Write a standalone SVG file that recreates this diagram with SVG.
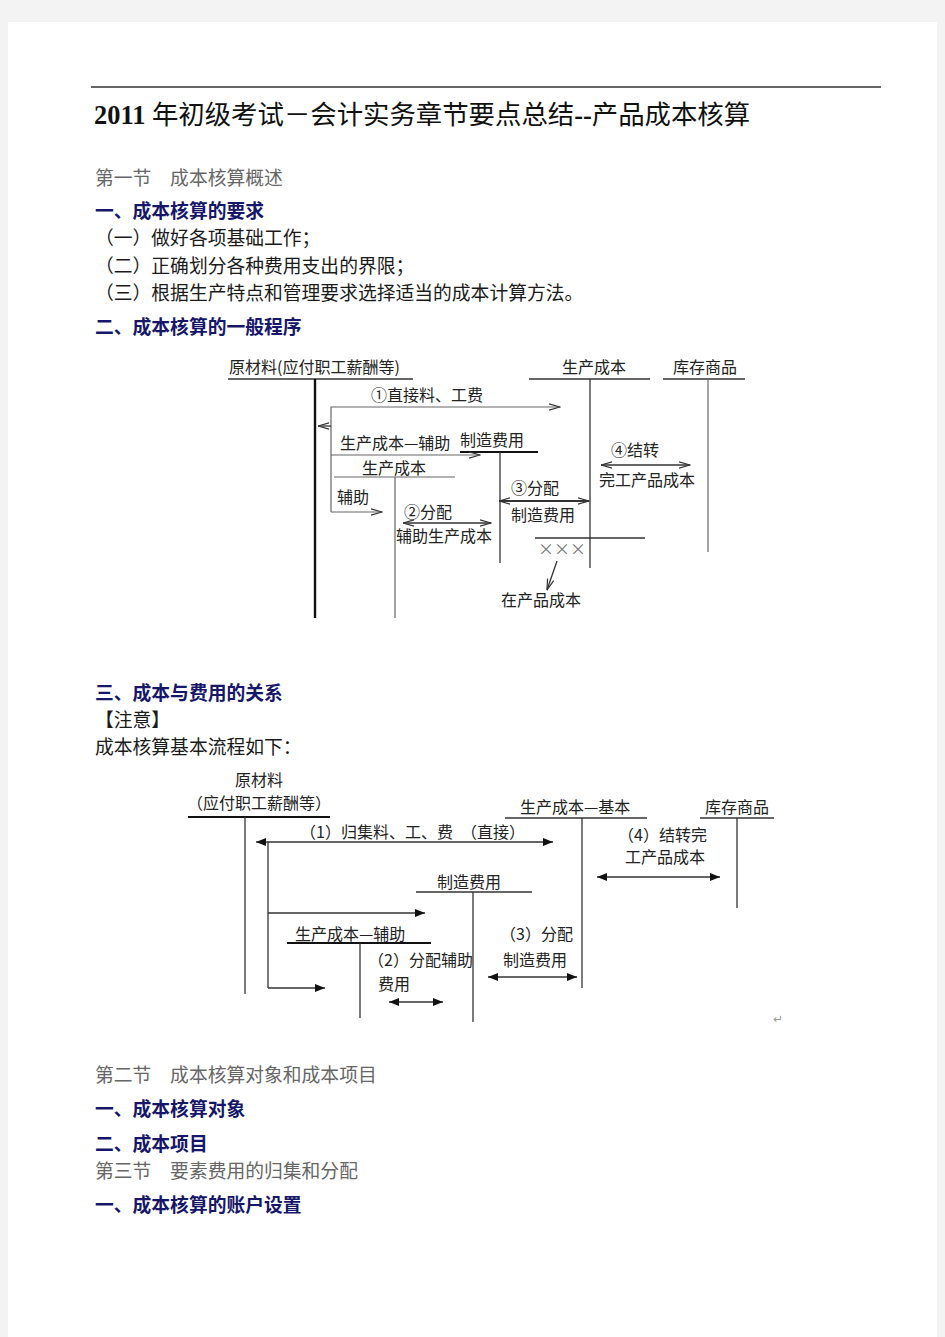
<svg xmlns="http://www.w3.org/2000/svg" width="945" height="1337" viewBox="0 0 945 1337">
<style>
.doc{font-family:"Liberation Serif","Noto Sans CJK SC",serif;font-size:18.8px;fill:#1a1a1a}
.sec{fill:#666}
.h{font-weight:bold;fill:#16166a}
.lbl{font-family:"Noto Sans CJK SC","Noto Sans",sans-serif;font-size:16px;fill:#222}
.ln{stroke:#333;stroke-width:1.3;fill:none}
.thick{stroke:#111;stroke-width:2.4;fill:none}
.gray{stroke:#666;stroke-width:1.2;fill:none}
</style>
<defs>
<marker id="open" viewBox="0 0 12 8" refX="11.5" refY="4" markerWidth="12" markerHeight="8" orient="auto-start-reverse" markerUnits="userSpaceOnUse"><path d="M0.5,0.8 L11.5,4 L0.5,7.2" fill="none" stroke="#333" stroke-width="1.2"/></marker>
<marker id="fill" viewBox="0 0 10 8" refX="10" refY="4" markerWidth="10" markerHeight="8" orient="auto-start-reverse" markerUnits="userSpaceOnUse"><path d="M0,0 L10,4 L0,8 z" fill="#111"/></marker>
</defs>
<rect width="945" height="1337" fill="#f3f3f3"/>
<rect x="8" y="22" width="929" height="1315" fill="#ffffff"/>
<line x1="91" y1="87" x2="881" y2="87" stroke="#333" stroke-width="1.3"/>

<g id="title">
<text x="94" y="124" font-family="'Liberation Serif','Noto Sans CJK SC',serif" font-size="26.4" fill="#111"><tspan font-weight="bold">2011</tspan> 年初级考试－会计实务章节要点总结<tspan font-weight="bold">--</tspan>产品成本核算</text>
</g>

<g id="text-top">
<text x="95" y="185" class="doc sec">第一节　成本核算概述</text>
<text x="95" y="218" class="doc h">一、成本核算的要求</text>
<text x="95" y="245" class="doc">（一）做好各项基础工作；</text>
<text x="95" y="273" class="doc">（二）正确划分各种费用支出的界限；</text>
<text x="95" y="300" class="doc">（三）根据生产特点和管理要求选择适当的成本计算方法。</text>
<text x="95" y="334" class="doc h">二、成本核算的一般程序</text>
</g>

<!-- Diagram 1 -->
<g id="d1-raw">
<text x="229" y="373" class="lbl">原材料(应付职工薪酬等)</text>
<line x1="228" y1="379" x2="413" y2="379" class="ln"/>
<line x1="315" y1="379" x2="315" y2="618" class="thick"/>
</g>
<g id="d1-prod">
<text x="562" y="373" class="lbl">生产成本</text>
<line x1="529" y1="379" x2="650" y2="379" class="ln"/>
<line x1="590" y1="379" x2="590" y2="568" class="ln"/>
<line x1="535" y1="538" x2="645" y2="538" class="ln"/>
<text x="538" y="555" class="lbl" style="fill:#777">×××</text>
</g>
<g id="d1-stock">
<text x="673" y="373" class="lbl">库存商品</text>
<line x1="663" y1="379" x2="745" y2="379" class="ln"/>
<line x1="708" y1="379" x2="708" y2="552" class="gray"/>
</g>
<g id="d1-mfg">
<text x="460" y="446" class="lbl">制造费用</text>
<line x1="460" y1="452" x2="538" y2="452" class="thick" style="stroke-width:2"/>
<line x1="500" y1="452" x2="500" y2="563" class="ln"/>
</g>
<g id="d1-aux">
<text x="362" y="474" class="lbl">生产成本</text>
<line x1="334" y1="477" x2="455" y2="477" class="gray"/>
<line x1="395" y1="477" x2="395" y2="618" class="gray"/>
</g>
<g id="d1-wip">
<text x="501" y="606" class="lbl">在产品成本</text>
</g>
<g id="d1-connectors">
<path d="M331,512 L331,407 L560,407" class="gray" marker-end="url(#open)"/>
<line x1="331" y1="426" x2="318" y2="426" class="ln" marker-end="url(#open)"/>
<line x1="331" y1="455" x2="480" y2="455" class="gray" marker-end="url(#open)"/>
<line x1="331" y1="512" x2="382" y2="512" class="gray" marker-end="url(#open)"/>
<line x1="403" y1="523" x2="491" y2="523" class="ln" marker-start="url(#open)" marker-end="url(#open)"/>
<line x1="499" y1="501" x2="589" y2="501" class="ln" style="stroke-width:2" marker-start="url(#open)" marker-end="url(#open)"/>
<line x1="601" y1="465" x2="690" y2="465" class="ln" marker-start="url(#open)" marker-end="url(#open)"/>
<line x1="557" y1="561" x2="547" y2="590" class="ln" marker-end="url(#open)"/>
<text x="371" y="401" class="lbl">①直接料、工费</text>
<text x="340" y="449" class="lbl">生产成本—辅助</text>
<text x="337" y="503" class="lbl">辅助</text>
<text x="404" y="518" class="lbl">②分配</text>
<text x="396" y="542" class="lbl">辅助生产成本</text>
<text x="511" y="494" class="lbl">③分配</text>
<text x="511" y="521" class="lbl">制造费用</text>
<text x="611" y="456" class="lbl">④结转</text>
<text x="599" y="486" class="lbl">完工产品成本</text>
</g>

<g id="text-mid">
<text x="95" y="700" class="doc h">三、成本与费用的关系</text>
<text x="95" y="727" class="doc">【注意】</text>
<text x="95" y="754" class="doc">成本核算基本流程如下：</text>
</g>

<!-- Diagram 2 -->
<g id="d2-raw">
<text x="259" y="786" class="lbl" text-anchor="middle">原材料</text>
<text x="187" y="809" class="lbl">（应付职工薪酬等）</text>
<line x1="188" y1="817" x2="330" y2="817" class="thick" style="stroke-width:1.8"/>
<line x1="245" y1="817" x2="245" y2="994" class="ln"/>
</g>
<g id="d2-basic">
<text x="520" y="813" class="lbl">生产成本—基本</text>
<line x1="505" y1="818" x2="647" y2="818" class="ln"/>
<line x1="582" y1="818" x2="582" y2="988" class="ln"/>
</g>
<g id="d2-stock">
<text x="705" y="813" class="lbl">库存商品</text>
<line x1="700" y1="818" x2="774" y2="818" class="ln"/>
<line x1="737" y1="818" x2="737" y2="908" class="ln"/>
</g>
<g id="d2-mfg">
<text x="437" y="888" class="lbl">制造费用</text>
<line x1="416" y1="892" x2="532" y2="892" class="ln"/>
<line x1="473" y1="892" x2="473" y2="1022" class="ln"/>
</g>
<g id="d2-aux">
<text x="295" y="940" class="lbl">生产成本—辅助</text>
<line x1="287" y1="943" x2="431" y2="943" class="thick" style="stroke-width:1.8"/>
<line x1="360" y1="943" x2="360" y2="1018" class="ln"/>
</g>
<g id="d2-connectors">
<line x1="268" y1="842" x2="256" y2="842" class="ln" marker-end="url(#fill)"/>
<path d="M268,988 L268,842 L553,842" class="ln" marker-end="url(#fill)"/>
<line x1="268" y1="913" x2="425" y2="913" class="ln" marker-end="url(#fill)"/>
<line x1="268" y1="988" x2="325" y2="988" class="ln" marker-end="url(#fill)"/>
<line x1="389" y1="1002" x2="443" y2="1002" class="ln" marker-start="url(#fill)" marker-end="url(#fill)"/>
<line x1="488" y1="977" x2="577" y2="977" class="ln" marker-start="url(#fill)" marker-end="url(#fill)"/>
<line x1="597" y1="877" x2="720" y2="877" class="ln" marker-start="url(#fill)" marker-end="url(#fill)"/>
<text x="300" y="838" class="lbl">（1）归集料、工、费　（直接）</text>
<text x="368" y="966" class="lbl">（2）分配辅助</text>
<text x="378" y="990" class="lbl">费用</text>
<text x="500" y="940" class="lbl">（3）分配</text>
<text x="503" y="966" class="lbl">制造费用</text>
<text x="618" y="841" class="lbl">（4）结转完</text>
<text x="625" y="863" class="lbl">工产品成本</text>
</g>
<text x="773" y="1023" font-family="'DejaVu Sans',sans-serif" font-size="12" fill="#999">↵</text>

<g id="text-bottom">
<text x="95" y="1082" class="doc sec">第二节　成本核算对象和成本项目</text>
<text x="95" y="1116" class="doc h">一、成本核算对象</text>
<text x="95" y="1151" class="doc h">二、成本项目</text>
<text x="95" y="1178" class="doc sec">第三节　要素费用的归集和分配</text>
<text x="95" y="1212" class="doc h">一、成本核算的账户设置</text>
</g>
</svg>
